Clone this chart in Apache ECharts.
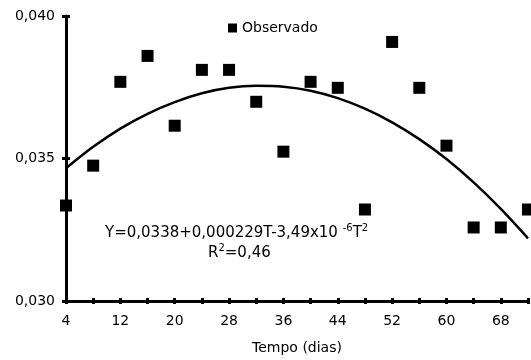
<!DOCTYPE html>
<html>
<head>
<meta charset="utf-8">
<script src="https://cdn.jsdelivr.net/npm/echarts@6/dist/echarts.min.js"></script>
<style>
  html, body { margin: 0; padding: 0; background: #fff; }
  #chart { width: 531px; height: 360px; }
</style>
</head>
<body>
<div id="chart"></div>
<script>
// dias de observacao
var dias = [4, 8, 12, 16, 20, 24, 28, 32, 36, 40, 44, 48, 52, 56, 60, 64, 68, 72];
// valores observados
var observado = [0.03335, 0.03475, 0.03769, 0.0386, 0.03615, 0.03811, 0.03811, 0.03699, 0.03524,
                 0.03769, 0.03748, 0.03321, 0.03909, 0.03748, 0.03545, 0.03258, 0.03258, 0.03321];
// curva ajustada
var ajustado = [0.03466, 0.03541, 0.03605, 0.03657, 0.03698, 0.03729, 0.03748, 0.03755, 0.03752,
                0.03738, 0.03712, 0.03675, 0.03627, 0.03568, 0.03498, 0.03416, 0.03323, 0.03220];
// rotulos do eixo x
var rotulosX = [4, 12, 20, 28, 36, 44, 52, 60, 68];

var myChart = echarts.init(document.getElementById('chart'));

var ptsObs = [];
var ptsAjuste = [];
for (var i = 0; i < dias.length; i++) {
	ptsObs.push([dias[i], observado[i]]);
	ptsAjuste.push([dias[i], ajustado[i]]);
}

var fonte = '"DejaVu Sans", sans-serif';

// eixo principal + eixo "fantasma" so para os tracos do lado de dentro
function eixoX(principal) {
	return {
		type: 'value',
		position: 'bottom',
		min: 4, max: 72, interval: 4,
		name: principal ? 'Tempo (dias)' : '',
		nameLocation: 'middle',
		nameGap: 40,
		nameTextStyle: { fontFamily: fonte, fontSize: 14, color: '#000' },
		axisLine: { show: principal, onZero: false, lineStyle: { color: '#000', width: 3 } },
		axisTick: { show: true, length: 3, inside: !principal, lineStyle: { color: '#000', width: 3 } },
		axisLabel: {
			show: principal,
			margin: 13,
			fontFamily: fonte, fontSize: 14, color: '#000',
			formatter: function (v) {
				return rotulosX.indexOf(v) >= 0 ? String(v) : '';
			}
		},
		splitLine: { show: false }
	};
}

function eixoY(principal) {
	return {
		type: 'value',
		position: 'left',
		min: 0.03, max: 0.04, interval: 0.005,
		axisLine: { show: principal, onZero: false, lineStyle: { color: '#000', width: 3 } },
		axisTick: { show: true, length: 4, inside: !principal, lineStyle: { color: '#000', width: 3 } },
		axisLabel: {
			show: principal,
			margin: 11,
			fontFamily: fonte, fontSize: 14, color: '#000',
			formatter: function (v) { return v.toFixed(3).replace('.', ','); }
		},
		splitLine: { show: false }
	};
}

var ricoEq = {
	a: { fontFamily: fonte, fontSize: 15, lineHeight: 18, verticalAlign: 'bottom', fill: '#000' },
	s: { fontFamily: fonte, fontSize: 10, lineHeight: 18, verticalAlign: 'top', fill: '#000' }
};

var option = {
	animation: false,
	backgroundColor: '#fff',
	textStyle: { fontFamily: fonte, color: '#000' },
	grid: { left: 66, right: 2, top: 16, bottom: 58, containLabel: false },
	legend: {
		data: [{ name: 'Observado', icon: 'rect' }],
		left: 223, top: 16,
		itemWidth: 9, itemHeight: 9, itemGap: 6,
		textStyle: { fontFamily: fonte, fontSize: 14, color: '#000' }
	},
	xAxis: [eixoX(true), eixoX(false)],
	yAxis: [eixoY(true), eixoY(false)],
	series: [
		{
			name: 'Ajuste',
			type: 'line',
			data: ptsAjuste,
			smooth: 0.3,
			symbol: 'none',
			lineStyle: { color: '#000', width: 2.5 },
			z: 3
		},
		{
			name: 'Observado',
			type: 'scatter',
			data: ptsObs,
			symbol: 'rect',
			symbolSize: 12,
			itemStyle: { color: '#000', opacity: 1 },
			z: 4
		}
	],
	graphic: [
		{
			type: 'text',
			left: 105, top: 223,
			style: {
				text: '{a|Y=0,0338+0,000229T-3,49x10 }{s|-6}{a|T}{s|2}',
				rich: ricoEq
			}
		},
		{
			type: 'text',
			left: 208, top: 243,
			style: {
				text: '{a|R}{s|2}{a|=0,46}',
				rich: ricoEq
			}
		}
	]
};

myChart.setOption(option);
</script>
</body>
</html>
